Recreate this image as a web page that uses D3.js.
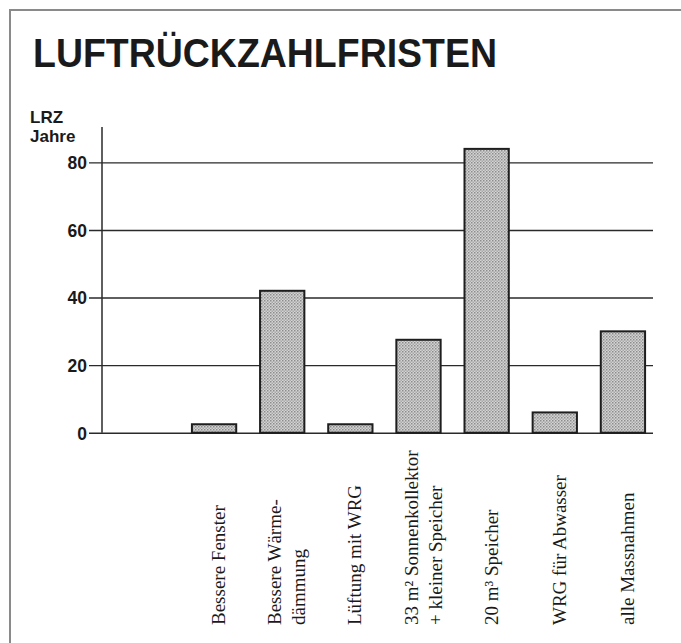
<!DOCTYPE html>
<html>
<head>
<meta charset="utf-8">
<script src="https://cdn.jsdelivr.net/npm/d3@7"></script>
<style>
  html, body { margin: 0; padding: 0; background: #fff; }
  svg { display: block; }
</style>
</head>
<body>
<svg id="chart" width="681" height="643"></svg>
<script>
// ---- data ----
const categories = [
  ["Bessere Fenster"],
  ["Bessere Wärme-", "dämmung"],
  ["Lüftung mit WRG"],
  ["33 m² Sonnenkollektor", "+ kleiner Speicher"],
  ["20 m³ Speicher"],
  ["WRG für Abwasser"],
  ["alle Massnahmen"]
];
const values = [2.5, 42, 2.5, 27.5, 84, 6, 30];
const yTicks = [0, 20, 40, 60, 80];
const title = "LUFTRÜCKZAHLFRISTEN";
const yLabel = ["LRZ", "Jahre"];

// ---- drawing ----
const svg = d3.select("#chart");
const keys = categories.map((c, i) => String(i));

// frame
svg.append("path")
  .attr("d", "M10,643 L10,10 L681,10")
  .attr("fill", "none").attr("stroke", "#8a8a8a").attr("stroke-width", 2);

// pattern (stipple)
const defs = svg.append("defs");
const pat = defs.append("pattern").attr("id", "stipple")
  .attr("patternUnits", "userSpaceOnUse").attr("width", 3).attr("height", 3);
pat.append("rect").attr("width", 3).attr("height", 3).attr("fill", "#d4d4d4");
pat.append("rect").attr("x", 0).attr("y", 0).attr("width", 1.5).attr("height", 1.5).attr("fill", "#8c8c8c");
pat.append("rect").attr("x", 1.5).attr("y", 1.5).attr("width", 1.5).attr("height", 1.5).attr("fill", "#a8a8a8");

const x = d3.scaleBand().domain(keys).range([180, 657])
  .paddingInner(0.35).paddingOuter(0.175);
const y = d3.scaleLinear().domain([0, 80]).range([432.7, 162.4]);

// title
svg.append("text")
  .attr("x", 33).attr("y", 67)
  .attr("font-family", "'Liberation Sans', Arial, Helvetica, sans-serif")
  .attr("font-weight", "bold").attr("font-size", 40)
  .attr("textLength", 464).attr("lengthAdjust", "spacingAndGlyphs")
  .attr("fill", "#1a1a1a")
  .text(title);

// y label
yLabel.forEach((t, i) => {
  svg.append("text")
    .attr("x", 30).attr("y", 123 + i * 19)
    .attr("font-family", "'Liberation Sans', Arial, sans-serif")
    .attr("font-weight", "bold").attr("font-size", 17)
    .attr("fill", "#1a1a1a").text(t);
});

// gridlines + tick labels via axis
const yAxis = d3.axisLeft(y).tickValues(yTicks).tickSize(-(653 - 89)).tickPadding(2)
  .tickFormat(d3.format("d"));
const gy = svg.append("g").attr("transform", "translate(89,0)").call(yAxis);
gy.select(".domain").remove();
gy.selectAll(".tick line").attr("stroke", "#2a2a2a").attr("stroke-width", 1.4);
gy.selectAll(".tick text")
  .attr("font-family", "'Liberation Sans', Arial, sans-serif")
  .attr("font-weight", "bold").attr("font-size", 17.5)
  .attr("fill", "#1a1a1a").attr("dy", "0.36em");

// vertical axis line
svg.append("line")
  .attr("x1", 102).attr("x2", 102).attr("y1", 127).attr("y2", y(0))
  .attr("stroke", "#2a2a2a").attr("stroke-width", 1.5);

// bars
svg.append("g").selectAll("rect").data(values).join("rect")
  .attr("x", (d, i) => x(keys[i]))
  .attr("width", x.bandwidth())
  .attr("y", d => y(d))
  .attr("height", d => y(0) - y(d))
  .attr("fill", "url(#stipple)")
  .attr("stroke", "#1e1e1e").attr("stroke-width", 2);

// category labels (rotated)
const lab = svg.append("g");
categories.forEach((lines, i) => {
  const cx = x(keys[i]) + x.bandwidth() / 2;
  const first = lines.length === 1 ? 11 : -1;
  lines.forEach((t, j) => {
    const bx = cx + first + j * 24;
    lab.append("text")
      .attr("transform", `translate(${bx},625) rotate(-90)`)
      .attr("font-family", "'Liberation Serif', 'Times New Roman', serif")
      .attr("font-size", 19)
      .attr("fill", "#1a1a1a")
      .attr("text-anchor", "start")
      .text(t);
  });
});
</script>
</body>
</html>
